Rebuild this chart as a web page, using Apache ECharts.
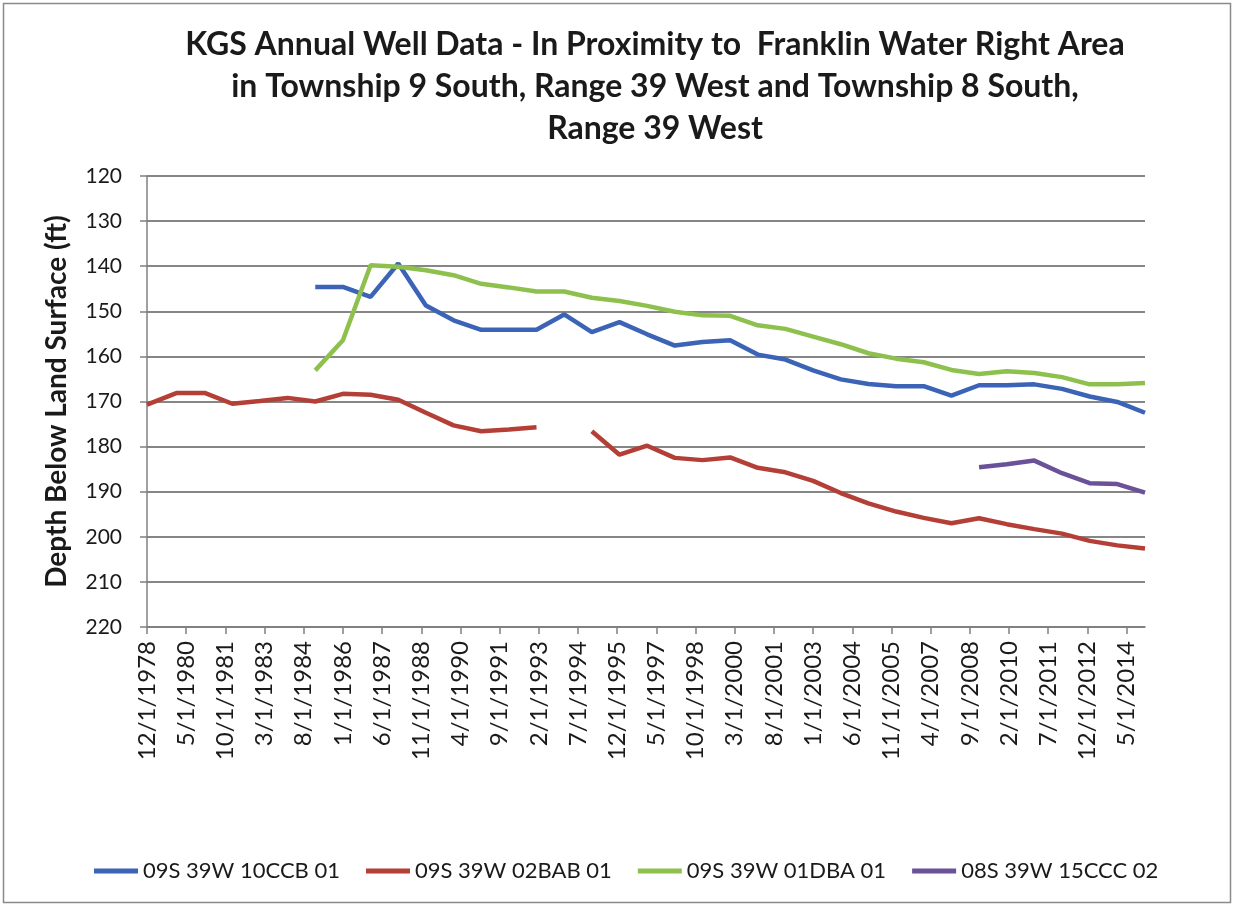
<!DOCTYPE html>
<html>
<head>
<meta charset="utf-8">
<script src="https://cdn.jsdelivr.net/npm/echarts@6/dist/echarts.min.js"></script>
<style>
  html, body { margin: 0; padding: 0; background: #fff; }
  #main { width: 1235px; height: 907px; }
</style>
</head>
<body>
<div id="main"></div>
<script>
// dates of the annual readings (first one was taken in Dec 1978)
var dates = ['12/1/1978', '1/1/1980', '1/1/1981', '1/1/1982', '1/1/1983', '1/1/1984', '1/1/1985',
  '1/1/1986', '1/1/1987', '1/1/1988', '1/1/1989', '1/1/1990', '1/1/1991', '1/1/1992', '1/1/1993',
  '1/1/1994', '1/1/1995', '1/1/1996', '1/1/1997', '1/1/1998', '1/1/1999', '1/1/2000', '1/1/2001',
  '1/1/2002', '1/1/2003', '1/1/2004', '1/1/2005', '1/1/2006', '1/1/2007', '1/1/2008', '1/1/2009',
  '1/1/2010', '1/1/2011', '1/1/2012', '1/1/2013', '1/1/2014', '1/1/2015'];

var well10CCB = [null, null, null, null, null, null,
  144.6, 144.6, 146.8, 139.4, 148.7, 152.0, 154.1, 154.1, 154.1, 150.7, 154.6, 152.4, 155.1,
  157.6, 156.8, 156.4, 159.6, 160.7, 163.1, 165.1, 166.1, 166.6, 166.6, 168.7, 166.4, 166.4,
  166.2, 167.2, 168.9, 170.1, 172.5];

var well02BAB = [170.7, 168.1, 168.1, 170.5, 169.9, 169.2, 170.0, 168.3, 168.5, 169.6, 172.5,
  175.3, 176.6, 176.2, 175.7, null, 176.6, 181.8, 179.8, 182.5, 183.0, 182.4, 184.7, 185.7,
  187.6, 190.3, 192.6, 194.4, 195.8, 197.0, 195.9, 197.2, 198.3, 199.3, 200.9, 201.9, 202.6];

var well01DBA = [null, null, null, null, null, null,
  163.1, 156.4, 139.8, 140.1, 140.9, 142.0, 143.9, 144.7, 145.6, 145.6, 147.0, 147.7, 148.8,
  150.1, 150.9, 151.0, 153.1, 153.9, 155.6, 157.3, 159.3, 160.5, 161.3, 163.0, 163.9, 163.3,
  163.7, 164.6, 166.2, 166.2, 165.9];

var well15CCC = [null, null, null, null, null, null, null, null, null, null, null, null, null,
  null, null, null, null, null, null, null, null, null, null, null, null, null, null, null,
  null, null, 184.6, 183.9, 183.1, 185.9, 188.1, 188.3, 190.2];

var seriesNames = ['09S 39W 10CCB 01', '09S 39W 02BAB 01', '09S 39W 01DBA 01', '08S 39W 15CCC 02'];
var colors = ['#3b63b6', '#b43f37', '#8ec04e', '#6a5198'];

// x axis: months since 12/1/1978, labelled every 17 months like the Excel date axis
var tickMonths = [];
for (var t = 0; t <= 425; t += 17) tickMonths.push(t);

function monthIndex(s) {
  var p = s.split('/');
  return (parseInt(p[2], 10) - 1978) * 12 + (parseInt(p[0], 10) - 12);
}
function monthLabel(v) {
  var total = 1978 * 12 + 11 + Math.round(v);
  return (total % 12 + 1) + '/1/' + Math.floor(total / 12);
}
function pairs(values) {
  return dates.map(function (d, i) {
    return [monthIndex(d), values[i] == null ? '-' : values[i]];
  });
}

var chart = echarts.init(document.getElementById('main'));
var font = 'Lato, "Open Sans", sans-serif';

chart.setOption({
  animation: false,
  title: {
    text: 'KGS Annual Well Data - In Proximity to  Franklin Water Right Area\nin Township 9 South, Range 39 West and Township 8 South,\nRange 39 West',
    left: 650,
    top: 19,
    textAlign: 'center',
    textStyle: { fontFamily: font, fontWeight: 'bold', fontSize: 32, lineHeight: 42, color: '#1a1a1a' }
  },
  legend: {
    top: 855,
    left: 89,
    itemWidth: 44,
    itemHeight: 5,
    itemGap: 26,
    icon: 'rect',
    textStyle: { fontFamily: font, fontSize: 22, color: '#1a1a1a' },
    data: seriesNames
  },
  grid: { left: 147, right: 90, top: 176, bottom: 280 },
  xAxis: {
    type: 'value',
    min: 0,
    max: 433,
    splitLine: { show: false },
    axisLine: { show: true, lineStyle: { color: '#808080', width: 1.5 } },
    axisTick: { show: true, length: 7, customValues: tickMonths, lineStyle: { color: '#808080', width: 1.5 } },
    axisLabel: {
      customValues: tickMonths,
      rotate: 90,
      margin: 14,
      fontFamily: font,
      fontSize: 24,
      color: '#1a1a1a',
      formatter: monthLabel
    }
  },
  yAxis: {
    type: 'value',
    inverse: true,
    min: 120,
    max: 220,
    interval: 10,
    name: 'Depth Below Land Surface (ft)',
    nameLocation: 'middle',
    nameGap: 76,
    nameTextStyle: { fontFamily: font, fontWeight: 'bold', fontSize: 28, color: '#1a1a1a' },
    axisLine: { show: true, lineStyle: { color: '#808080', width: 1.5 } },
    axisTick: { show: true, length: 7, lineStyle: { color: '#808080', width: 1.5 } },
    splitLine: { show: true, lineStyle: { color: '#5e5e5e', width: 1.5 } },
    axisLabel: { fontFamily: font, fontSize: 21, color: '#1a1a1a', margin: 25 }
  },
  graphic: [{
    type: 'rect',
    shape: { x: 3.5, y: 3.5, width: 1227, height: 899 },
    style: { fill: 'none', stroke: '#8a8a8a', lineWidth: 1.5 },
    silent: true
  }],
  series: [well10CCB, well02BAB, well01DBA, well15CCC].map(function (vals, i) {
    return {
      name: seriesNames[i],
      type: 'line',
      data: pairs(vals),
      showSymbol: false,
      connectNulls: false,
      color: colors[i],
      lineStyle: { width: 4.5, color: colors[i] },
      z: 2 + i
    };
  })
});
</script>
</body>
</html>
